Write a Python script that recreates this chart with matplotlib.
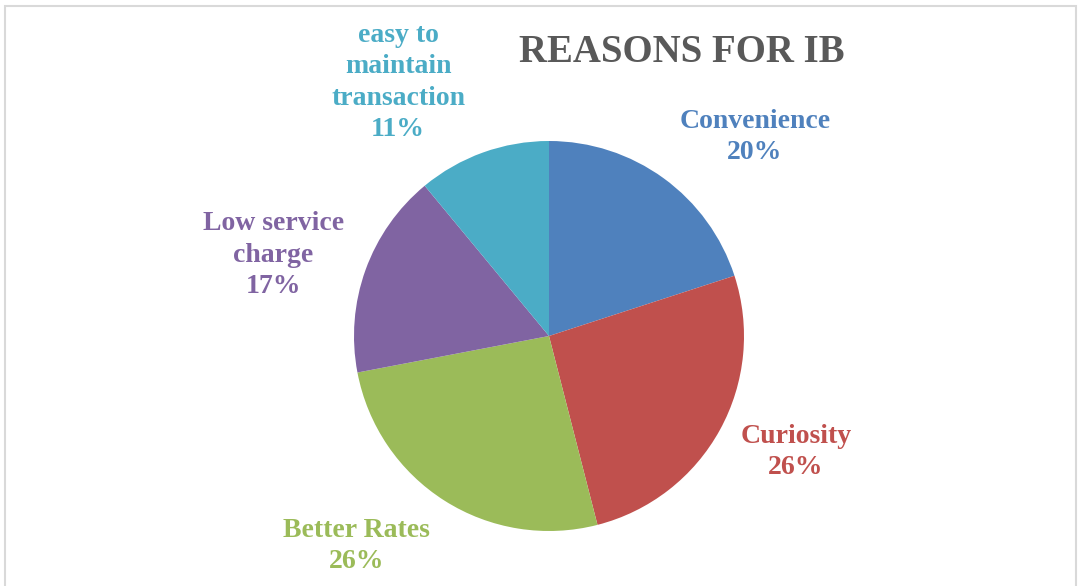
import numpy as np
import matplotlib.pyplot as plt
from matplotlib.patches import Rectangle

# reasons for choosing internet banking, share of respondents
reasons = ["Convenience", "Curiosity", "Better Rates", "Low service\ncharge",
           "easy to\nmaintain\ntransaction"]
shares = [20, 26, 26, 17, 11]
colors = ["#4F81BD", "#C0504D", "#9BBB59", "#8064A2", "#4BACC6"]

# where each label sits, in units of the pie radius
label_xy = [(1.056, 1.02), (1.267, -0.595), (-0.985, -1.077),
            (-1.415, 0.415), (-0.774, 1.30)]

W, H = 1078, 586
fig = plt.figure(figsize=(W / 100, H / 100), dpi=100)

# thin grey frame of the chart area
fig.patches.append(Rectangle((5 / W, -0.05), (1076 - 5) / W, 1.05 - 6 / H,
                             transform=fig.transFigure, fill=False,
                             edgecolor="#D9D9D9", linewidth=1.5))

cx, cy, r = 549, 336, 195
ax = fig.add_axes([(cx - r) / W, (H - cy - r) / H, 2 * r / W, 2 * r / H])
ax.pie(shares, colors=colors, startangle=90, counterclock=False, radius=1,
       wedgeprops=dict(linewidth=0))
ax.set_xlim(-1, 1)
ax.set_ylim(-1, 1)
ax.set_aspect("equal")
ax.axis("off")

font = ["Liberation Serif", "DejaVu Serif"]
for name, val, col, (lx, ly) in zip(reasons, shares, colors, label_xy):
    ax.text(lx, ly, f"{name}\n{val}%", ha="center", va="center", color=col,
            fontsize=20, fontweight="bold", family=font, linespacing=1.35,
            clip_on=False)

fig.text(682 / W, 1 - 53 / H, "REASONS FOR IB", ha="center", va="center",
         fontsize=28, fontweight="bold", color="#595959", family=font)

fig.savefig("out.png", dpi=100)
